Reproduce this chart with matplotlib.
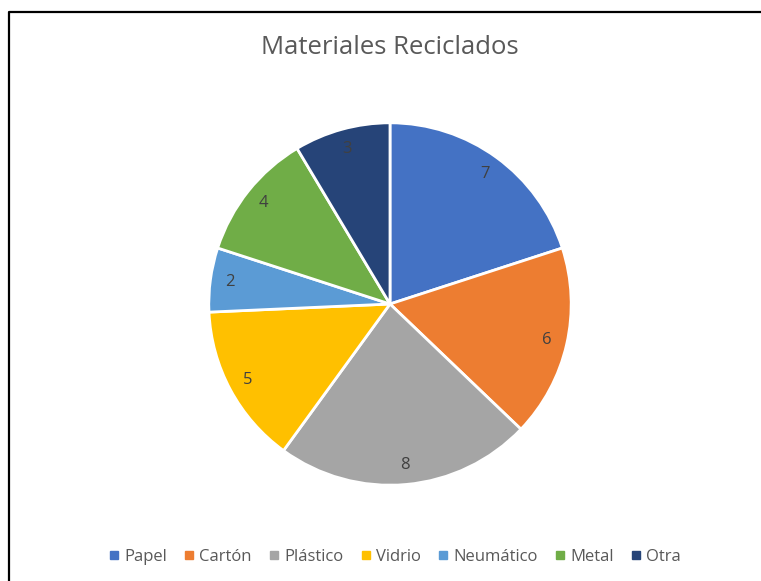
import numpy as np
import matplotlib.pyplot as plt
from matplotlib.lines import Line2D

# datos
materiales = ['Papel', 'Cartón', 'Plástico', 'Vidrio', 'Neumático', 'Metal', 'Otra']
cantidades = [7, 6, 8, 5, 2, 4, 3]
colores = ['#4472C4', '#ED7D31', '#A5A5A5', '#FFC000', '#5B9BD5', '#70AD47', '#264478']

plt.rcParams['font.family'] = ['Open Sans', 'DejaVu Sans']

W, H = 761, 581
fig = plt.figure(figsize=(W / 100, H / 100), dpi=100)

# pie centrado en (390, 304) px, radio 183 px
cx, cy, r = 390, 304, 183
ax = fig.add_axes([(cx - r) / W, (H - cy - r) / H, 2 * r / W, 2 * r / H])

total = sum(cantidades)
wedges, texts, autotexts = ax.pie(
    cantidades, colors=colores, startangle=90, counterclock=False,
    radius=1, wedgeprops=dict(edgecolor='white', linewidth=2),
    autopct=lambda p: '%d' % round(p * total / 100), pctdistance=0.89,
    textprops=dict(color='#404040', fontsize=12))
ax.set_xlim(-1.01, 1.01)
ax.set_ylim(-1.01, 1.01)
ax.set_aspect('equal')
ax.axis('off')

fig.text(cx / W, 1 - 47 / H, 'Materiales Reciclados', ha='center', va='center',
         fontsize=18.5, color='#595959')

# leyenda
handles = [Line2D([], [], marker='s', linestyle='', markersize=5.5,
                  markerfacecolor=c, markeredgecolor=c) for c in colores]
fig.legend(handles, materiales, loc='center', bbox_to_anchor=(395 / W, 1 - 557 / H),
           ncol=7, frameon=False, fontsize=12, labelcolor='#595959',
           handlelength=0.6, handletextpad=0.3, columnspacing=1.05)

# marco
fig.add_artist(Line2D([8.5 / W, 8.5 / W, 1], [0, 1 - 11.5 / H, 1 - 11.5 / H],
                      transform=fig.transFigure, color='black', lw=1.6))

fig.savefig('out.png', dpi=100)
